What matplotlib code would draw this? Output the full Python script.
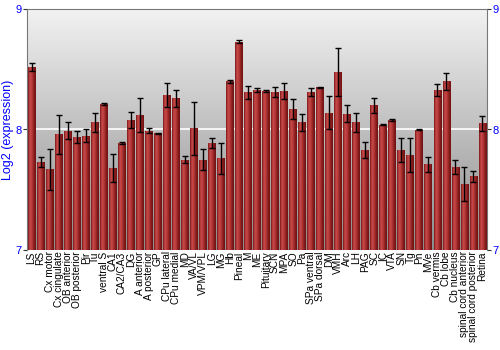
import numpy as np
import matplotlib
matplotlib.use("Agg")
import matplotlib.pyplot as plt
from matplotlib.colors import LinearSegmentedColormap

plt.rcParams['font.family'] = ['Liberation Sans', 'DejaVu Sans']

regions = ["LS", "RS", "Cx motor", "Cx cingulate", "OB anterior", "OB posterior", "Pir", "Tu",
           "ventral S", "CA1", "CA2/CA3", "DG", "A anterior", "A posterior", "GP", "CPu lateral",
           "CPu medial", "MD", "VA/VL", "VPM/VPL", "LG", "MG", "Hb", "Pineal", "M", "ME",
           "Pituitary", "SCN", "MPA", "SO", "Pa", "SPa ventral", "SPa dorsal", "DM", "VMH", "Arc",
           "LH", "PAG", "SC", "IC", "VTA", "SN", "Tg", "Pn", "MVe", "Cb vermis", "Cb lobe",
           "Cb nucleus", "spinal cord anterior", "spinal cord posterior", "Retina"]
expression = [8.52, 7.73, 7.67, 7.96, 7.99, 7.94, 7.95, 8.06, 8.21, 7.68, 7.89, 8.08, 8.12, 7.99,
              7.97, 8.29, 8.26, 7.75, 8.01, 7.75, 7.89, 7.76, 8.40, 8.73, 8.31, 8.33, 8.32, 8.31,
              8.32, 8.17, 8.06, 8.31, 8.35, 8.14, 8.48, 8.13, 8.06, 7.83, 8.20, 8.04, 8.08, 7.83,
              7.79, 8.00, 7.71, 8.33, 8.40, 7.69, 7.55, 7.61, 8.05]
errors = [0.03, 0.04, 0.17, 0.16, 0.07, 0.05, 0.05, 0.08, 0.01, 0.12, 0.01, 0.065, 0.14, 0.02,
          0.005, 0.10, 0.07, 0.03, 0.22, 0.085, 0.04, 0.13, 0.01, 0.01, 0.055, 0.015, 0.006, 0.04,
          0.07, 0.08, 0.07, 0.035, 0.003, 0.14, 0.20, 0.07, 0.08, 0.07, 0.06, 0.006, 0.01, 0.10,
          0.14, 0.005, 0.06, 0.05, 0.07, 0.06, 0.14, 0.045, 0.065]

fig = plt.figure(figsize=(5, 3.5), dpi=100)
ax = fig.add_axes([0.054, 0.286, 0.92, 0.688])
x = np.arange(len(regions))
xlim = (-0.5, len(regions) - 0.5)
ylim = (7, 9)

# grey vertical gradient background
bg = LinearSegmentedColormap.from_list("bg", ["#8c8c8c", "#f2f2f2"])
ax.imshow(np.linspace(0, 1, 256).reshape(-1, 1), cmap=bg, origin="lower", aspect="auto",
          extent=(xlim[0], xlim[1], ylim[0], ylim[1]), zorder=0)
ax.axhline(8, color="white", lw=1.2, zorder=1)

bars = ax.bar(x, np.array(expression) - 7, bottom=7, width=0.86, color="#b03030",
              linewidth=0, zorder=2)
# shaded bar fill
barmap = LinearSegmentedColormap.from_list("bar", ["#7a1616", "#c84a4a", "#b83a3a", "#8a1e1e", "#6e1212"])
shade = np.linspace(0, 1, 64).reshape(1, -1)
for b in bars:
    x0, w = b.get_x(), b.get_width()
    im = ax.imshow(shade, cmap=barmap, aspect="auto", extent=(x0, x0 + w, 7, b.get_y() + b.get_height()),
                   zorder=2.5)
    im.set_clip_path(b)

ax.errorbar(x, expression, yerr=errors, fmt="none", ecolor="black", elinewidth=1, capsize=2,
            capthick=1, zorder=3)

ax.set_xlim(*xlim)
ax.set_ylim(*ylim)
ax.set_xticks(x)
ax.set_xticklabels(regions, rotation=90, fontsize=7.3)
ax.tick_params(axis="x", length=0, pad=1)
ax.set_yticks([7, 8, 9])
ax.tick_params(axis="y", colors="#333333", labelcolor="blue", labelsize=8, length=3, pad=1,
               right=True, labelright=True)
ax.set_ylabel("Log2 (expression)", color="blue", fontsize=9, labelpad=1)
for side in ["left", "right", "top"]:
    ax.spines[side].set_color("#777777")
ax.spines["bottom"].set_visible(False)

fig.savefig("out.png", dpi=100)
